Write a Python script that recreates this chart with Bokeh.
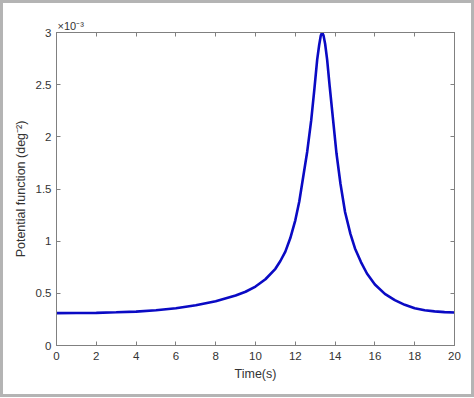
from bokeh.plotting import figure
from bokeh.models import LinearAxis, FixedTicker, Range1d, CustomJSTickFormatter
from bokeh.embed import file_html
from bokeh.resources import INLINE

# Time (s)
t = [0, 1, 2, 3, 4, 5, 6, 7, 8, 9, 9.5, 10, 10.5, 11, 11.25, 11.5, 11.75, 12,
     12.2, 12.4, 12.6, 12.8, 12.96, 13.1, 13.2, 13.28, 13.35, 13.42, 13.5, 13.6,
     13.73, 13.9, 14.07, 14.27, 14.5, 14.77, 15, 15.3, 15.6, 16, 16.5, 17, 17.5,
     18, 18.5, 19, 19.5, 20]
# Potential function, in units of 1e-3 deg^-2
v = [0.310, 0.311, 0.313, 0.318, 0.325, 0.338, 0.357, 0.385, 0.425, 0.48, 0.515,
     0.565, 0.635, 0.735, 0.81, 0.90, 1.03, 1.20, 1.38, 1.62, 1.86, 2.16, 2.46,
     2.74, 2.88, 2.97, 3.0, 2.97, 2.89, 2.74, 2.48, 2.16, 1.84, 1.55, 1.28, 1.07,
     0.93, 0.80, 0.69, 0.585, 0.495, 0.435, 0.39, 0.357, 0.338, 0.327, 0.320, 0.316]

x_ticks = [0, 2, 4, 6, 8, 10, 12, 14, 16, 18, 20]
y_ticks = [0, 0.5, 1, 1.5, 2, 2.5, 3]

FONT = "Liberation Sans"
AX = "#808080"
TXT = "#333333"

p = figure(frame_width=398, frame_height=313, output_backend="svg",
           toolbar_location=None, x_range=Range1d(0, 20), y_range=Range1d(0, 3),
           min_border_left=53, min_border_right=17, min_border_top=29,
           min_border_bottom=49, background_fill_color="white",
           border_fill_color="white", title="\u00d710\u207b\u00b3")
p.styles = {"border": "3px solid #b4b4b4"}
p.grid.visible = False
p.outline_line_color = AX
p.title.text_font = FONT
p.title.text_font_size = "11px"
p.title.text_font_style = "normal"
p.title.text_color = TXT
p.title.align = "left"
p.title.offset = 1
p.title.standoff = 1

p.line(t, v, line_color="#0a0ac4", line_width=2.6)

p.xaxis.ticker = FixedTicker(ticks=x_ticks)
p.yaxis.ticker = FixedTicker(ticks=y_ticks)
p.yaxis.formatter = CustomJSTickFormatter(code="return String(tick);")
for ax in (p.xaxis[0], p.yaxis[0]):
    ax.axis_line_color = AX
    ax.major_tick_line_color = AX
    ax.major_tick_in = 4
    ax.major_tick_out = 0
    ax.minor_tick_line_color = None
    ax.major_label_text_font = FONT
    ax.major_label_text_font_size = "11.5px"
    ax.major_label_text_color = TXT
    ax.axis_label_text_font = FONT
    ax.axis_label_text_font_size = "12.5px"
    ax.axis_label_text_font_style = "normal"
    ax.axis_label_text_color = TXT

p.xaxis.axis_label = "Time(s)"
p.yaxis.axis_label = "Potential function (deg\u207b\u00b2)"
p.xaxis.major_label_standoff = 6
p.yaxis.major_label_standoff = 5
p.xaxis.axis_label_standoff = 4
p.yaxis.axis_label_standoff = 5

for loc in ("above", "right"):
    a = LinearAxis(ticker=FixedTicker(ticks=x_ticks if loc == "above" else y_ticks),
                   formatter=CustomJSTickFormatter(code="return '';"),
                   major_label_standoff=0,
                   axis_line_color=AX, major_tick_line_color=AX,
                   major_tick_in=4, major_tick_out=0, minor_tick_line_color=None)
    p.add_layout(a, loc)

open("out.html", "w").write(file_html(p, INLINE))
